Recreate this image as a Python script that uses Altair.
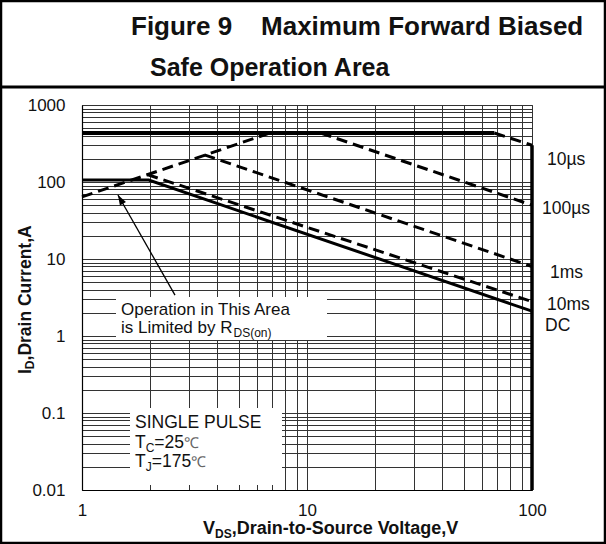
import math
import altair as alt
import pandas as pd

# ---------------- data ----------------
SERIES = ["ID limit", "10µs", "100µs", "1ms", "10ms", "DC", "VDS limit", "RDS(on) limit", "arrow"]
VDS = {
    "ID limit": [1, 68],
    "10µs": [68, 100],
    "100µs": [11.5, 100],
    "1ms": [3.5, 100],
    "10ms": [1.95, 100],
    "DC": [1, 1.98, 100],
    "VDS limit": [100, 100],
    "RDS(on) limit": [1, 6.85],
    "arrow": [2.59, 1.445],
}
ID = {
    "ID limit": [433, 433],
    "10µs": [433, 300],
    "100µs": [433, 50],
    "1ms": [225, 8],
    "10ms": [125, 2.8],
    "DC": [106, 106, 2.1],
    "VDS limit": [300, 0.01],
    "RDS(on) limit": [64, 433],
    "arrow": [3.4, 67.8],
}
CURVE_LABELS = ["10µs", "100µs", "1ms", "10ms", "DC"]
X_GRID = [1, 2, 3, 4, 5, 6, 7, 8, 9, 10, 20, 30, 40, 50, 60, 70, 80, 90, 100]
Y_GRID = [float(f"{m}e{e}") for e in range(-2, 3) for m in range(1, 10)] + [1000.0]
X_TICK_LABELS = ["1", "10", "100"]
Y_TICK_LABELS = ["0.01", "0.1", "1", "10", "100", "1000"]

rows = []
for s in SERIES:
    for k, (v, i) in enumerate(zip(VDS[s], ID[s])):
        rows.append({"series": s, "v": v, "i": i, "k": k})
df = pd.DataFrame(rows)
one = pd.DataFrame({"a": [0]})

# ---------------- layout ----------------
PL, PT, W, H = 82, 105, 450, 385
FONT = "Liberation Sans"
NB = "\u00a0"

REG = {' ': 278, '(': 333, ')': 333, '=': 584, 'C': 722, 'D': 722, 'J': 500, 'L': 556, 'R': 722,
       'S': 667, 'T': 611, 'b': 556, 'd': 556, 'e': 556, 'i': 222, 'm': 833, 'n': 556,
       'o': 556, 's': 500, 't': 278, 'y': 500}
BOLD = {'I': 278, 'D': 722, 'V': 667, 'S': 667}


def tw(s, size, bold=False):
    tab = BOLD if bold else REG
    return sum(tab.get(c, 556) for c in s) * size / 1000.0


def txt(s, px, py, size, bold=False, angle=0, align="left", baseline="alphabetic", color="#111"):
    kw = dict(text=s, font=FONT, fontSize=size, align=align, baseline=baseline, color=color)
    if bold:
        kw["fontWeight"] = "bold"
    if angle:
        kw["angle"] = angle
    return alt.Chart(one).mark_text(**kw).encode(x=alt.value(px - PL), y=alt.value(py - PT))


x_label_expr = "indexof(%s, format(datum.value, '~g')) >= 0 ? format(datum.value, '~g') : ''" % str(X_TICK_LABELS)
y_label_expr = "indexof(%s, format(datum.value, '~g')) >= 0 ? format(datum.value, '~g') : ''" % str(Y_TICK_LABELS)

X = alt.X("v:Q", title=None,
          scale=alt.Scale(type="log", domain=[1, 100], nice=False),
          axis=alt.Axis(values=X_GRID, labelExpr=x_label_expr, labelPadding=12, labelFlush=False,
                        labelOverlap=False))
Y = alt.Y("i:Q", title=None,
          scale=alt.Scale(type="log", domain=[0.01, 1000], nice=False),
          axis=alt.Axis(values=Y_GRID, labelExpr=y_label_expr, labelPadding=17, labelFlush=False,
                        labelOverlap=False))

DASH = [11, 6]
STYLE = {
    "ID limit": dict(strokeWidth=4),
    "DC": dict(strokeWidth=3),
    "VDS limit": dict(strokeWidth=3.5),
    "10µs": dict(strokeWidth=3, strokeDash=DASH),
    "100µs": dict(strokeWidth=3, strokeDash=DASH),
    "1ms": dict(strokeWidth=3, strokeDash=DASH),
    "10ms": dict(strokeWidth=3, strokeDash=DASH),
    "RDS(on) limit": dict(strokeWidth=3, strokeDash=DASH),
    "arrow": dict(strokeWidth=1.3),
}

layers = []
# white boxes behind annotations (cover grid)
layers.append(alt.Chart(one).mark_rect(color="white").encode(
    x=alt.value(116 - PL), x2=alt.value(327 - PL), y=alt.value(297 - PT), y2=alt.value(340 - PT)))
layers.append(alt.Chart(one).mark_rect(color="white").encode(
    x=alt.value(130 - PL), x2=alt.value(282 - PL), y=alt.value(408 - PT), y2=alt.value(485 - PT)))

for s in SERIES:
    layers.append(
        alt.Chart(df).transform_filter(alt.datum.series == s)
        .mark_line(color="black", clip=False, **STYLE[s])
        .encode(x=X, y=Y, order="k:Q")
    )

# arrow head
ax0, ax1 = VDS["arrow"]
ay0, ay1 = ID["arrow"]
dx = 225 * (math.log10(ax1) - math.log10(ax0))
dy = -77 * (math.log10(ay1) - math.log10(ay0))
ang = (math.degrees(math.atan2(dx, -dy)) + 360) % 360
layers.append(
    alt.Chart(df).transform_filter((alt.datum.series == "arrow") & (alt.datum.k == 1))
    .mark_point(shape="M0,0L-0.35,1L0.35,1Z", filled=True, color="black", size=400, angle=ang, opacity=1)
    .encode(x=X, y=Y)
)

# curve labels
LBL_POS = {"10µs": (547, 165), "100µs": (542, 214), "1ms": (550, 278), "10ms": (547, 310), "DC": (545, 331)}
for s in CURVE_LABELS:
    px, py = LBL_POS[s]
    layers.append(txt(s, px, py, 17.5))

# annotation box 1
ANN = 17
layers.append(txt("Operation in This Area", 121, 315, ANN))
layers.append(txt("is Limited by R", 121, 333, ANN))
layers.append(txt("DS(on)", 122 + tw("is Limited by R", ANN), 337, 12))
# annotation box 2
layers.append(txt("SINGLE PULSE", 135, 428, 17.5))
for lab, sub, val, base in [("T", "C", "=25", 448), ("T", "J", "=175", 467)]:
    xa = 135
    xb = xa + tw(lab, 17.5)
    xc = xb + tw(sub, 12)
    xd = xc + tw(val, 17.5)
    layers.append(txt(lab, xa, base, 17.5))
    layers.append(txt(sub, xb, base + 4, 12))
    layers.append(txt(val, xc, base, 17.5))
    layers.append(txt("℃", xd, base, 15, color="#666"))

# axis titles with subscripts
x0 = 203
layers.append(txt("V", x0, 534, 18, bold=True))
layers.append(txt("DS", x0 + tw("V", 18, True), 538, 12, bold=True))
layers.append(txt(",Drain-to-Source Voltage,V", x0 + tw("V", 18, True) + tw("DS", 12, True), 534, 18, bold=True))

y0 = 374
layers.append(txt("I", 31, y0, 17.5, bold=True, angle=270))
layers.append(txt("D", 34, y0 - tw("I", 17.5, True), 12, bold=True, angle=270))
layers.append(txt(",Drain Current,A", 31, y0 - tw("I", 17.5, True) - tw("D", 12, True), 17.5, bold=True, angle=270))

# title
layers.append(txt("Figure 9" + NB * 4 + "Maximum Forward Biased", 131, 35, 26, bold=True))
layers.append(txt("Safe Operation Area", 150, 76, 25, bold=True))

# frame
def rule(x1, y1, x2, y2, w=2.5):
    return alt.Chart(one).mark_rule(color="black", strokeWidth=w).encode(
        x=alt.value(x1 - PL), y=alt.value(y1 - PT), x2=alt.value(x2 - PL), y2=alt.value(y2 - PT))

layers.append(rule(1, 0, 1, 544))
layers.append(rule(605, 0, 605, 544))
layers.append(rule(0, 1, 606, 1))
layers.append(rule(0, 543, 606, 543))
layers.append(rule(0, 87, 606, 87, 3))

chart = alt.layer(*layers).properties(
    width=W, height=H,
    autosize=alt.AutoSizeParams(type="none"),
    padding={"left": PL, "top": PT, "right": 606 - PL - W, "bottom": 544 - PT - H},
    background="white",
).configure_view(stroke="#555", strokeWidth=1).configure_axis(
    grid=True, gridColor="#333", gridWidth=1, gridOpacity=1,
    domain=True, domainColor="black", domainWidth=1.2,
    ticks=False, labelFont=FONT, labelFontSize=17, labelColor="#111",
)

chart.save("out.html", embed_options={"renderer": "svg", "actions": False})
